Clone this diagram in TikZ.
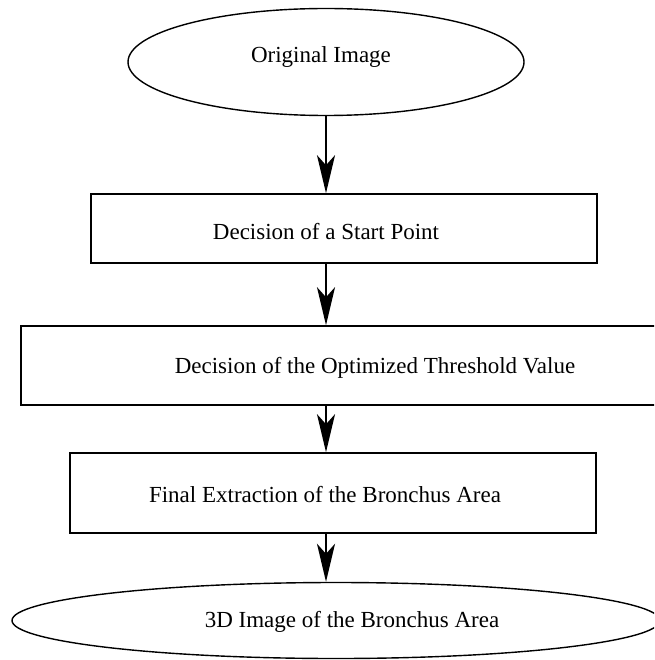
\documentclass[tikz,border=0pt]{standalone}
\usepackage{fontspec}
\setmainfont{Liberation Serif}
\usetikzlibrary{arrows.meta,shapes.geometric}

\tikzset{
  stepbox/.style={draw, rectangle, line width=1.6pt, inner sep=0},
  endbox/.style={draw, ellipse, line width=1.4pt, inner sep=0},
  steptext/.style={font=\fontsize{23}{27}\selectfont, inner sep=0},
  flow/.style={line width=2.6pt, -{Stealth[length=38pt,width=18pt,inset=10pt]}}
}

\begin{document}
\begin{tikzpicture}[x=1pt,y=-1pt]
    \useasboundingbox (0,0) rectangle (654,660);
    \clip (0,0) rectangle (654,660);

    \node[endbox, minimum width=396pt, minimum height=107pt](orig) at (326, 62) {};
    \node[steptext](origtxt) at (321, 57) {Original Image};

    \node[stepbox, minimum width=506pt, minimum height=69pt](start) at (344, 228.5) {};
    \node[steptext](starttxt) at (326, 232) {Decision of a Start Point};

    \node[stepbox, minimum width=639pt, minimum height=79pt](thresh) at (340.5, 365.5) {};
    \node[steptext](threshtxt) at (375, 368) {Decision of the Optimized Threshold Value};

    \node[stepbox, minimum width=526pt, minimum height=80pt](extract) at (333, 493) {};
    \node[steptext](extracttxt) at (325, 495) {Final Extraction of the Bronchus Area};

    \node[endbox, minimum width=648pt, minimum height=76pt](result) at (336, 620.5) {};
    \node[steptext](resulttxt) at (352, 622) {3D Image of the Bronchus Area};

    \draw[flow] (orig.south) -- (orig.south |- start.north);
    \draw[flow] (orig.south |- start.south) -- (orig.south |- thresh.north);
    \draw[flow] (orig.south |- thresh.south) -- (orig.south |- extract.north);
    \draw[flow] (orig.south |- extract.south) -- (orig.south |- result.north);
\end{tikzpicture}
\end{document}
